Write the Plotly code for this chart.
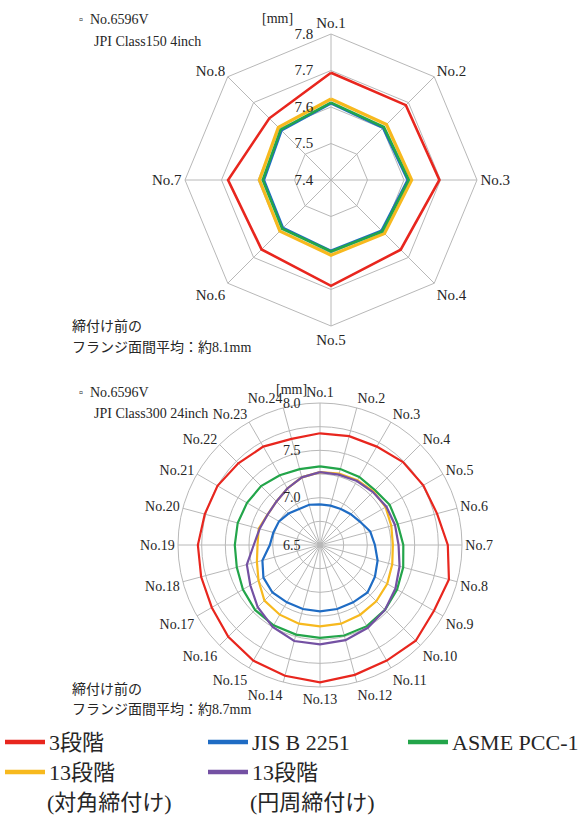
import plotly.graph_objects as go

# ---------------- data ----------------
top_cats = [f"No.{i}" for i in range(1, 9)]
top_red = [7.694, 7.690, 7.697, 7.670, 7.690, 7.669, 7.682, 7.639]
top_yellow = [7.622, 7.615, 7.621, 7.607, 7.606, 7.598, 7.596, 7.604]
top_blue = [7.610, 7.602, 7.610, 7.596, 7.594, 7.586, 7.584, 7.592]
top_green = [7.612, 7.605, 7.613, 7.599, 7.596, 7.589, 7.587, 7.595]

bot_cats = [f"No.{i}" for i in range(1, 25)]
bot_red = [7.68, 7.69, 7.70, 7.74, 7.76, 7.78, 7.85, 7.91, 7.89, 7.93, 7.91, 7.92,
           7.95, 7.93, 7.91, 7.87, 7.82, 7.80, 7.79, 7.76, 7.75, 7.72, 7.70, 7.66]
bot_blue = [6.93, 6.93, 6.94, 6.96, 6.99, 7.05, 7.08, 7.13, 7.17, 7.21, 7.20, 7.20,
            7.20, 7.20, 7.20, 7.21, 7.19, 7.13, 7.03, 7.01, 7.00, 6.97, 6.94, 6.94]
bot_green = [7.33, 7.33, 7.33, 7.32, 7.35, 7.35, 7.38, 7.41, 7.44, 7.47, 7.49, 7.49,
             7.48, 7.48, 7.48, 7.47, 7.44, 7.41, 7.40, 7.40, 7.39, 7.38, 7.35, 7.33]
bot_yellow = [7.27, 7.28, 7.29, 7.30, 7.30, 7.28, 7.27, 7.29, 7.32, 7.34, 7.35, 7.36,
              7.36, 7.36, 7.35, 7.33, 7.25, 7.19, 7.16, 7.17, 7.14, 7.15, 7.19, 7.24]
bot_purple = [7.27, 7.27, 7.28, 7.29, 7.31, 7.32, 7.33, 7.37, 7.42, 7.47, 7.51, 7.54,
              7.55, 7.55, 7.50, 7.43, 7.35, 7.30, 7.20, 7.16, 7.14, 7.15, 7.19, 7.24]

top_ticks = [7.4, 7.5, 7.6, 7.7, 7.8]
top_ticktext = ["7.4", "7.5", "7.6", "7.7", "7.8"]
bot_ticks = [6.5, 6.75, 7.0, 7.25, 7.5, 7.75, 8.0]
bot_ticktext = ["6.5", "", "7.0", "", "7.5", "", "8.0"]

series_names = ["3段階", "JIS B 2251", "ASME PCC-1", "13段階<br>(対角締付け)", "13段階<br>(円周締付け)"]

RED = "#e8261e"
BLUE = "#1f6cc4"
GREEN = "#23a54a"
YELLOW = "#f7b91e"
PURPLE = "#7451a3"
series_colors = [RED, BLUE, GREEN, YELLOW, PURPLE]

SERIF = "Liberation Serif, Times New Roman, Noto Sans CJK JP, serif"
GRID = "#b8b8b8"
TXT = "#262626"

fig = go.Figure()


def add(subplot, cats, vals, color, width):
    fig.add_trace(go.Scatterpolar(
        r=list(vals) + [vals[0]], theta=list(cats) + [cats[0]],
        mode="lines", line=dict(color=color, width=width),
        subplot=subplot, showlegend=False, hoverinfo="skip"))


# top chart
add("polar", top_cats, top_red, RED, 2.6)
add("polar", top_cats, top_yellow, YELLOW, 3.2)
add("polar", top_cats, top_blue, BLUE, 2.6)
add("polar", top_cats, top_green, GREEN, 2.6)

# bottom chart
add("polar2", bot_cats, bot_red, RED, 2.2)
add("polar2", bot_cats, bot_blue, BLUE, 2.2)
add("polar2", bot_cats, bot_green, GREEN, 2.2)
add("polar2", bot_cats, bot_yellow, YELLOW, 2.2)
add("polar2", bot_cats, bot_purple, PURPLE, 2.2)

W, H = 580, 819


def px_x(x):
    return x / W


def px_y(y):
    return 1 - y / H


top_font = dict(family=SERIF, size=15, color=TXT)
bot_font = dict(family=SERIF, size=14, color=TXT)

fig.update_layout(
    width=W, height=H, margin=dict(l=0, r=0, t=0, b=0),
    paper_bgcolor="white", plot_bgcolor="white",
    polar=dict(
        domain=dict(x=[px_x(331 - 146), px_x(331 + 146)], y=[px_y(180 + 146), px_y(180 - 146)]),
        bgcolor="white", gridshape="linear",
        angularaxis=dict(direction="clockwise", rotation=90, type="category",
                         categoryorder="array", categoryarray=top_cats,
                         gridcolor=GRID, gridwidth=1, linecolor=GRID, linewidth=1,
                         showline=True, ticks="", tickfont=top_font),
        radialaxis=dict(range=[7.4, 7.8], tickvals=top_ticks, ticktext=top_ticktext,
                        angle=90, tickangle=90, side="counterclockwise", showline=False,
                        gridcolor=GRID, gridwidth=1, ticks="outside", ticklen=12,
                        tickcolor="rgba(0,0,0,0)", tickfont=top_font),
    ),
    polar2=dict(
        domain=dict(x=[px_x(320 - 142), px_x(320 + 142)], y=[px_y(545 + 142), px_y(545 - 142)]),
        bgcolor="white", gridshape="circular",
        angularaxis=dict(direction="clockwise", rotation=90, type="category",
                         categoryorder="array", categoryarray=bot_cats,
                         gridcolor=GRID, gridwidth=1, linecolor=GRID, linewidth=1,
                         showline=True, ticks="", tickfont=bot_font),
        radialaxis=dict(range=[6.5, 8.0], tickvals=bot_ticks, ticktext=bot_ticktext,
                        angle=90, tickangle=90, side="counterclockwise", showline=False,
                        gridcolor=GRID, gridwidth=1, ticks="outside", ticklen=14,
                        tickcolor="rgba(0,0,0,0)", tickfont=bot_font),
    ),
)

annotations = []
shapes = []


def text(x, y, s, size=14, anchor="left", yanchor="middle"):
    annotations.append(dict(x=px_x(x), y=px_y(y), xref="paper", yref="paper", text=s,
                            showarrow=False, xanchor=anchor, yanchor=yanchor,
                            font=dict(family=SERIF, size=size, color=TXT)))


# top chart texts
text(77, 19, "▫", 11)
text(88, 19, "No.6596V")
text(92, 41, "JPI Class150 4inch")
text(260, 18, "[mm]")
text(70, 326, "締付け前の", 14)
text(70, 347, "フランジ面間平均：約8.1mm", 14)

# bottom chart texts
text(77, 392, "▫", 11)
text(88, 392, "No.6596V")
text(92, 413, "JPI Class300 24inch")
text(274, 389, "[mm]")
text(70, 689, "締付け前の", 14)
text(70, 709, "フランジ面間平均：約8.7mm", 14)

# legend
leg_pos = [(5, 742), (208, 742), (408, 742), (5, 772), (208, 772)]
for (lx, ly), name, col in zip(leg_pos, series_names, series_colors):
    shapes.append(dict(type="line", xref="paper", yref="paper",
                       x0=px_x(lx), x1=px_x(lx + 40), y0=px_y(ly), y1=px_y(ly),
                       line=dict(color=col, width=4.5)))
    if "<br>" in name:
        a, b = name.split("<br>")
        text(lx + 42, ly, a, 22)
        text(lx + 40, ly + 30, b, 22)
    else:
        text(lx + 42, ly, name, 22)

fig.update_layout(annotations=annotations, shapes=shapes)
fig.write_html("out.html")
